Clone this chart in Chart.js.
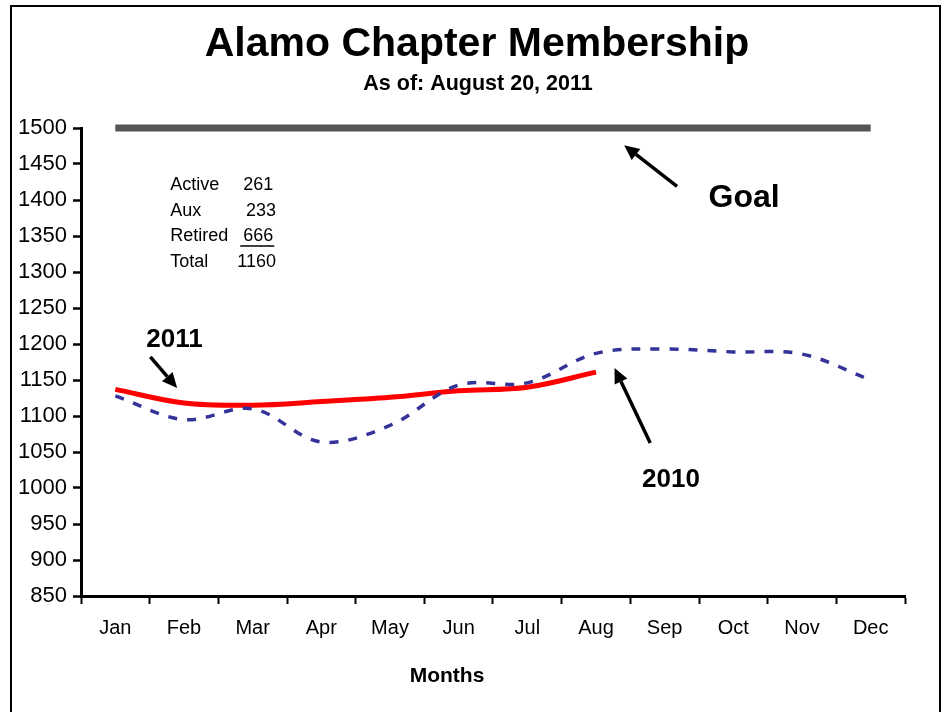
<!DOCTYPE html>
<html>
<head>
<meta charset="utf-8">
<script src="https://cdn.jsdelivr.net/npm/chart.js@4/dist/chart.umd.min.js"></script>
<style>
  html, body { margin: 0; padding: 0; background: #fff; }
  #wrap { width: 943px; height: 712px; position: relative; }
</style>
</head>
<body>
<div id="wrap"><canvas id="c" width="943" height="712"></canvas></div>
<script>
const months = ['Jan','Feb','Mar','Apr','May','Jun','Jul','Aug','Sep','Oct','Nov','Dec'];
const goal = [1500,1500,1500,1500,1500,1500,1500,1500,1500,1500,1500,1500];
const members2010 = [1128,1095,1110,1064,1087,1143,1146,1187,1193,1189,1186,1150];
const members2011 = [1137,1118,1115,1120,1126,1135,1140,1161];
const yTicks = {min: 850, max: 1500, step: 50};
const summaryLabels = ['Active','Aux','Retired','Total'];
const summaryValues = ['261','233','666','1160'];

const FONT = '"Liberation Sans", Arial, Helvetica, sans-serif';

function arrow(ctx, x1, y1, x2, y2) {
  const ang = Math.atan2(y2 - y1, x2 - x1);
  const hl = 15, hw = 7;
  const bx = x2 - hl * Math.cos(ang), by = y2 - hl * Math.sin(ang);
  ctx.beginPath();
  ctx.moveTo(x1, y1);
  ctx.lineTo(bx, by);
  ctx.lineWidth = 3.5;
  ctx.strokeStyle = '#000';
  ctx.stroke();
  ctx.beginPath();
  ctx.moveTo(x2, y2);
  ctx.lineTo(bx + hw * Math.sin(ang), by - hw * Math.cos(ang));
  ctx.lineTo(bx - hw * Math.sin(ang), by + hw * Math.cos(ang));
  ctx.closePath();
  ctx.fillStyle = '#000';
  ctx.fill();
}

const decor = {
  id: 'decor',
  beforeDraw(chart) {
    const ctx = chart.ctx;
    ctx.save();
    ctx.fillStyle = '#fff';
    ctx.fillRect(0, 0, chart.width, chart.height);
    ctx.restore();
  },
  afterDraw(chart) {
    const ctx = chart.ctx;
    const xs = chart.scales.x, ys = chart.scales.y;
    const px = (i, v) => [xs.getPixelForValue(i), ys.getPixelForValue(v)];
    ctx.save();
    // frame
    ctx.strokeStyle = '#000';
    ctx.lineWidth = 2;
    ctx.beginPath();
    ctx.moveTo(11, 712);
    ctx.lineTo(11, 6);
    ctx.lineTo(940, 6);
    ctx.lineTo(940, 712);
    ctx.stroke();

    ctx.fillStyle = '#000';
    ctx.textAlign = 'center';
    ctx.textBaseline = 'middle';
    ctx.font = 'bold 41px ' + FONT;
    ctx.fillText('Alamo Chapter Membership', 477, 45);
    ctx.font = 'bold 21.5px ' + FONT;
    ctx.fillText('As of: August 20, 2011', 478, 84);
    ctx.font = 'bold 21px ' + FONT;
    ctx.fillText('Months', 447, 676);

    // summary box
    ctx.font = '18px ' + FONT;
    const rows = [1421, 1385, 1350, 1314];
    for (let k = 0; k < summaryLabels.length; k++) {
      const [lx, ly] = px(0.8, rows[k]);
      ctx.textAlign = 'left';
      ctx.fillText(summaryLabels[k], lx, ly);
      const [rx] = px(k % 2 === 1 || k === 3 ? 2.34 : 2.3, rows[k]);
      ctx.textAlign = 'right';
      ctx.fillText(summaryValues[k], rx, ly);
      if (k === 2) {
        const w = ctx.measureText(summaryValues[k]).width;
        ctx.beginPath();
        ctx.lineWidth = 1.5;
        ctx.moveTo(rx - w - 3, ly + 10);
        ctx.lineTo(rx + 1, ly + 10);
        ctx.stroke();
      }
    }

    // annotations
    ctx.textAlign = 'left';
    ctx.font = 'bold 32px ' + FONT;
    let p = px(8.64, 1403);
    ctx.fillText('Goal', p[0], p[1]);
    let a = px(8.18, 1419), b = px(7.41, 1476);
    arrow(ctx, a[0], a[1], b[0], b[1]);

    ctx.font = 'bold 26px ' + FONT;
    p = px(0.45, 1205.6);
    ctx.fillText('2011', p[0], p[1]);
    a = px(0.51, 1182); b = px(0.90, 1139);
    arrow(ctx, a[0], a[1], b[0], b[1]);

    p = px(7.67, 1011);
    ctx.fillText('2010', p[0], p[1]);
    a = px(7.79, 1062.5); b = px(7.27, 1166.7);
    arrow(ctx, a[0], a[1], b[0], b[1]);
    ctx.restore();
  }
};

new Chart(document.getElementById('c'), {
  type: 'line',
  data: {
    labels: months,
    datasets: [
      { label: 'Goal', data: goal, borderColor: '#555555', borderWidth: 7, pointRadius: 0, tension: 0, clip: false, borderCapStyle: 'butt' },
      { label: '2010', data: members2010, borderColor: '#333399', borderWidth: 3.5, borderDash: [9, 10], pointRadius: 0, tension: 0.35 },
      { label: '2011', data: members2011, borderColor: '#ff0000', borderWidth: 5, pointRadius: 0, tension: 0.35 }
    ]
  },
  options: {
    responsive: false,
    animation: false,
    devicePixelRatio: 1,
    layout: { padding: { left: 0, right: 38, top: 128, bottom: 0 } },
    plugins: { legend: { display: false }, title: { display: false }, tooltip: { enabled: false } },
    scales: {
      x: {
        offset: true,
        grid: { offset: true, drawOnChartArea: false, drawTicks: true, tickLength: 8, tickWidth: 2, tickColor: '#000' },
        border: { display: true, color: '#000', width: 3 },
        ticks: { color: '#000', font: { family: FONT, size: 20 }, padding: 12, maxRotation: 0, autoSkip: false },
        afterFit(s) { s.height = 116; }
      },
      y: {
        min: yTicks.min, max: yTicks.max,
        grid: { drawOnChartArea: false, drawTicks: true, tickLength: 8, tickWidth: 2.5, tickColor: '#000' },
        border: { display: true, color: '#000', width: 3 },
        ticks: { stepSize: yTicks.step, color: '#000', font: { family: FONT, size: 22 }, padding: 6, callback: v => String(v) },
        afterFit(s) { s.width = 81; }
      }
    }
  },
  plugins: [decor]
});
</script>
</body>
</html>
